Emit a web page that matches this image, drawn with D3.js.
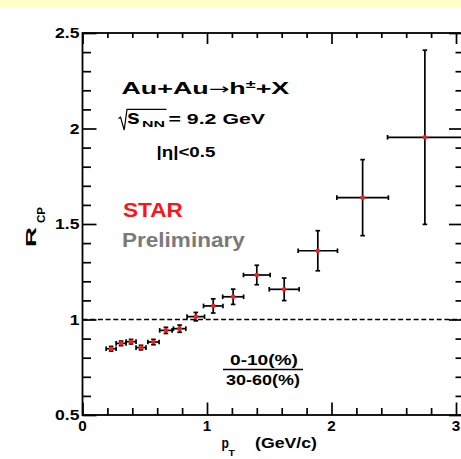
<!DOCTYPE html>
<html><head><meta charset="utf-8">
<script src="https://cdn.jsdelivr.net/npm/d3@7"></script>
<style>html,body{margin:0;padding:0;background:#fff;overflow:hidden}text{font-family:"Liberation Sans",Arial,Helvetica,sans-serif}</style>
</head><body>
<svg id="chart" width="461" height="459"></svg>
<script>
// ---- data ----
const ptValues  = [0.23, 0.31, 0.39, 0.47, 0.57, 0.67, 0.78, 0.91, 1.05, 1.21, 1.40, 1.62, 1.89, 2.25, 2.75];
const rcpValues = [0.847, 0.875, 0.884, 0.853, 0.882, 0.943, 0.952, 1.015, 1.071, 1.119, 1.233, 1.158, 1.360, 1.638, 1.954];
const ptErrors  = [0.04, 0.04, 0.04, 0.04, 0.045, 0.05, 0.05, 0.07, 0.078, 0.084, 0.107, 0.12, 0.158, 0.207, 0.30];
const rcpErrors = [0.012, 0.012, 0.012, 0.012, 0.014, 0.016, 0.019, 0.022, 0.037, 0.04, 0.051, 0.059, 0.105, 0.199, 0.456];
const xTickValues = [0, 1, 2, 3];
const xTickLabels = ["0", "1", "2", "3"];
const yTickValues = [0.5, 1, 1.5, 2, 2.5];
const yTickLabels = ["0.5", "1", "1.5", "2", "2.5"];
const referenceLevel = [1];

// ---- layout ----
const W = 461, H = 459;
const L = 82.5, R = 464, T = 33, B = 415;
const svg = d3.select("#chart");
svg.append("rect").attr("x",0).attr("y",0).attr("width",W).attr("height",H).attr("fill","#fff");
svg.append("rect").attr("x",0).attr("y",0).attr("width",W).attr("height",7.5).attr("fill","#ffffc6");

const x = d3.scaleLinear().domain([0, (R - L) / 124.5]).range([L, R]);
const y = d3.scaleLinear().domain([0.5, 2.5]).range([B, T]);

const xMinor = d3.range(0, 3.0001, 0.2).filter(v => Math.abs(v - Math.round(v)) > 1e-6);
const yMinor = d3.range(0.5, 2.5001, 0.1).filter(v => Math.abs(v*2 - Math.round(v*2)) > 1e-6);

function axisG(axis, tx, ty) {
  const g = svg.append("g").attr("transform", `translate(${tx},${ty})`).call(axis);
  g.select(".domain").remove();
  g.selectAll("text").remove();
  g.selectAll("line").attr("stroke", "#000").attr("stroke-width", 1.7);
  return g;
}
// bottom
axisG(d3.axisBottom(x).tickValues(xTickValues).tickSizeInner(-12.5).tickSizeOuter(0), 0, B);
axisG(d3.axisBottom(x).tickValues(xMinor).tickSizeInner(-7).tickSizeOuter(0), 0, B);
// top
axisG(d3.axisTop(x).tickValues(xTickValues).tickSizeInner(-11).tickSizeOuter(0), 0, T);
axisG(d3.axisTop(x).tickValues(xMinor).tickSizeInner(-5).tickSizeOuter(0), 0, T);
// left
axisG(d3.axisLeft(y).tickValues(yTickValues).tickSizeInner(-14).tickSizeOuter(0), L, 0);
axisG(d3.axisLeft(y).tickValues(yMinor).tickSizeInner(-8.5).tickSizeOuter(0), L, 0);
// right
axisG(d3.axisRight(y).tickValues(yTickValues).tickSizeInner(-15).tickSizeOuter(0), R, 0);
axisG(d3.axisRight(y).tickValues(yMinor).tickSizeInner(-8.5).tickSizeOuter(0), R, 0);

// frame
svg.append("rect").attr("x", L).attr("y", T).attr("width", R - L).attr("height", B - T)
  .attr("fill", "none").attr("stroke", "#000").attr("stroke-width", 1.8);

// dashed reference line
svg.selectAll(".ref").data(referenceLevel).enter().append("line")
  .attr("x1", L).attr("x2", R).attr("y1", d => y(d)).attr("y2", d => y(d))
  .attr("stroke", "#000").attr("stroke-width", 1.4).attr("stroke-dasharray", "5,2.7");

// text helper
function stretchedText(px, py, str, opts) {
  const g = svg.append("g").attr("transform", `translate(${px},${py})`);
  const t = g.append("text").attr("x", 0).attr("y", 0)
    .attr("font-size", opts.size).attr("font-weight", opts.weight || "bold")
    .attr("fill", opts.fill || "#000").attr("text-anchor", opts.anchor || "start")
    .text(str);
  if (opts.width) {
    const bb = t.node().getBBox();
    t.attr("transform", `scale(${opts.width / bb.width},1)`);
  } else if (opts.sx) {
    t.attr("transform", `scale(${opts.sx},1)`);
  }
  return t;
}
yTickValues.forEach((v, i) => {
  stretchedText(79.5, y(v) + 5.3, yTickLabels[i], {size: 15, anchor: "end", sx: 1.17});
});
xTickValues.forEach((v, i) => {
  stretchedText(x(v), 431, xTickLabels[i], {size: 14.5, anchor: "middle", sx: 1.05});
});

// error bars + points
const pts = ptValues.map((p, i) => ({p, r: rcpValues[i], ep: ptErrors[i], er: rcpErrors[i]}));
const eb = svg.append("g").attr("stroke", "#000").attr("stroke-width", 1.7).attr("fill", "none");
const cap = 2.3;
pts.forEach(d => {
  const cx = x(d.p), cy = y(d.r);
  const x0 = x(d.p - d.ep), x1 = x(d.p + d.ep), y0 = y(d.r - d.er), y1 = y(d.r + d.er);
  eb.append("line").attr("x1", x0).attr("x2", x1).attr("y1", cy).attr("y2", cy);
  eb.append("line").attr("x1", cx).attr("x2", cx).attr("y1", y0).attr("y2", y1);
  eb.append("line").attr("x1", x0).attr("x2", x0).attr("y1", cy - cap).attr("y2", cy + cap);
  eb.append("line").attr("x1", x1).attr("x2", x1).attr("y1", cy - cap).attr("y2", cy + cap);
  eb.append("line").attr("x1", cx - cap).attr("x2", cx + cap).attr("y1", y0).attr("y2", y0);
  eb.append("line").attr("x1", cx - cap).attr("x2", cx + cap).attr("y1", y1).attr("y2", y1);
});
svg.append("g").selectAll("circle").data(pts).enter().append("circle")
  .attr("cx", d => x(d.p)).attr("cy", d => y(d.r)).attr("r", 2.3).attr("fill", "#ff1a1a");

// ---- annotations ----
// Au+Au -> h± + X
(function(){
  const g = svg.append("g").attr("transform", "translate(121.5,94)");
  const t = g.append("text").attr("font-size", 16.3).attr("font-weight", "bold").attr("fill", "#000");
  t.append("tspan").text("Au+Au");
  t.append("tspan").attr("font-family", "DejaVu Sans").attr("font-weight", "normal").attr("font-size", 15).text("\u2192");
  t.append("tspan").text("h");
  t.append("tspan").attr("dy", -6.5).attr("font-size", 11).text("\u00b1");
  t.append("tspan").attr("dy", 6.5).text("+X");
  const bb = t.node().getBBox();
  t.attr("transform", `scale(${168 / bb.width},1)`);
})();
// sqrt(s_NN) = 9.2 GeV
svg.append("path").attr("d", "M118.5,118.5 L120.5,117.2 L124.2,130 L127,109.3 L166.5,109.3")
  .attr("fill", "none").attr("stroke", "#000").attr("stroke-width", 1.2);
stretchedText(127, 124, "s", {size: 19.5, weight: "bold", width: 13});
stretchedText(142, 127, "NN", {size: 9, weight: "bold", width: 23});
stretchedText(168.5, 124.3, "= 9.2 GeV", {size: 14.5, weight: "bold", width: 97});
// |eta|<0.5
stretchedText(156.5, 157.3, "|\u03b7|<0.5", {size: 14.8, weight: "bold", width: 59});
// STAR Preliminary
stretchedText(123, 217, "STAR", {size: 19.5, weight: "bold", fill: "#ff1414", width: 60});
stretchedText(122, 247, "Preliminary", {size: 19.5, weight: "bold", fill: "#7a7a7a", width: 123});
// fraction
stretchedText(230, 365, "0-10(%)", {size: 14, weight: "bold", width: 68});
svg.append("line").attr("x1", 223).attr("x2", 303).attr("y1", 369.5).attr("y2", 369.5)
  .attr("stroke", "#000").attr("stroke-width", 1.5);
stretchedText(226, 385, "30-60(%)", {size: 14, weight: "bold", width: 74});
// x title
stretchedText(221.5, 448, "p", {size: 14.5, weight: "bold", width: 7.5});
stretchedText(228.5, 455.5, "T", {size: 9.5, weight: "bold", width: 6.5});
stretchedText(255, 448, "(GeV/c)", {size: 14, weight: "bold", width: 62});
// y title (rotated)
(function(){
  const g = svg.append("g").attr("transform", "translate(36,247) rotate(-90)");
  const t1 = g.append("text").attr("font-size", 14).attr("font-weight", "bold").text("R");
  const b1 = t1.node().getBBox();
  t1.attr("transform", `scale(${20 / b1.width},1)`);
  const g2 = g.append("g").attr("transform", "translate(24,8.5)");
  const t2 = g2.append("text").attr("font-size", 10.5).attr("font-weight", "bold").text("CP");
  const b2 = t2.node().getBBox();
  t2.attr("transform", `scale(${16 / b2.width},1)`);
})();
</script>
</body></html>
